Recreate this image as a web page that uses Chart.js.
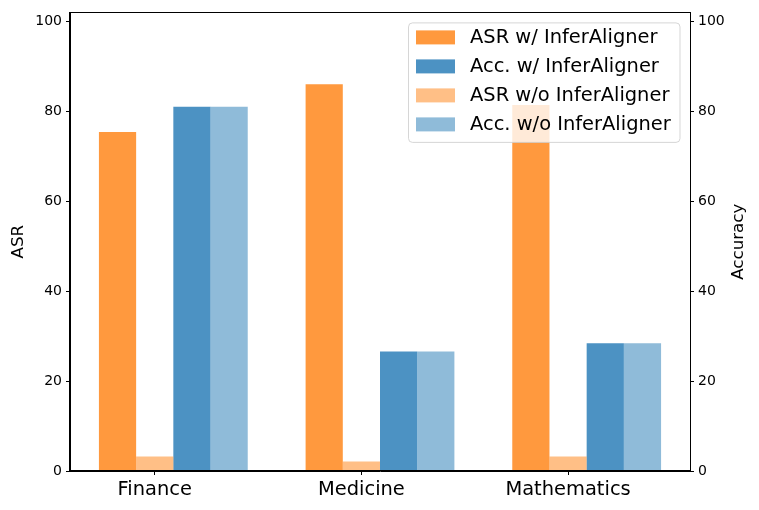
<!DOCTYPE html>
<html><head><meta charset="utf-8">
<script src="https://cdn.jsdelivr.net/npm/chart.js@4"></script>
<style>html,body{margin:0;padding:0;background:#fff;} #wrap{width:759px;height:510px;position:relative;}</style>
</head><body><div id="wrap"><canvas id="c" width="759" height="510"></canvas></div>
<script>
const categories = ['Finance', 'Medicine', 'Mathematics'];
const asrWith = [75.4, 86.0, 81.4];
const asrWithout = [3.2, 2.1, 3.2];
const accWith = [81.0, 26.6, 28.4];
const accWithout = [81.0, 26.6, 28.4];
const yTicks = [0, 20, 40, 60, 80, 100];
const yMax = 102;
const barWidth = 0.18; // in category units
const legendOrder = [0, 2, 1, 3];
const leftTitle = 'ASR';
const rightTitle = 'Accuracy';

const FONT = '"DejaVu Sans", sans-serif';

const datasets = [
  { label: 'ASR w/ InferAligner', data: asrWith, backgroundColor: 'rgba(255,127,14,0.8)', yAxisID: 'y', xAxisID: 'x' },
  { label: 'ASR w/o InferAligner', data: asrWithout, backgroundColor: 'rgba(255,127,14,0.5)', yAxisID: 'y', xAxisID: 'x' },
  { label: 'Acc. w/ InferAligner', data: accWith, backgroundColor: 'rgba(31,119,180,0.8)', yAxisID: 'y1', xAxisID: 'x' },
  { label: 'Acc. w/o InferAligner', data: accWithout, backgroundColor: 'rgba(31,119,180,0.5)', yAxisID: 'y1', xAxisID: 'x' }
];

const framePlugin = {
  id: 'frame',
  afterDatasetsDraw(chart) {
    const { ctx, chartArea: a } = chart;
    ctx.save();
    ctx.strokeStyle = '#000';
    ctx.lineWidth = 1;
    ctx.strokeRect(Math.round(a.left) - 0.5, Math.round(a.top) + 0.5, Math.round(a.right - a.left) + 1, Math.round(a.bottom - a.top) - 1);
    // right axis title, rotated to read bottom-to-top
    ctx.save();
    ctx.translate(chart.width - 20, (a.top + a.bottom) / 2);
    ctx.rotate(-Math.PI / 2);
    ctx.font = '16.7px ' + FONT;
    ctx.fillStyle = '#000';
    ctx.textAlign = 'center';
    ctx.textBaseline = 'middle';
    ctx.fillText(rightTitle, 0, 0);
    ctx.restore();
    ctx.restore();
  }
};

const legendPlugin = {
  id: 'mplLegend',
  afterDraw(chart) {
    const { ctx, chartArea: a } = chart;
    const bx = a.right - 281.5, by = a.top + 10.5, bw = 271.5, bh = 119.5, r = 4;
    ctx.save();
    ctx.beginPath();
    ctx.moveTo(bx + r, by);
    ctx.lineTo(bx + bw - r, by);
    ctx.quadraticCurveTo(bx + bw, by, bx + bw, by + r);
    ctx.lineTo(bx + bw, by + bh - r);
    ctx.quadraticCurveTo(bx + bw, by + bh, bx + bw - r, by + bh);
    ctx.lineTo(bx + r, by + bh);
    ctx.quadraticCurveTo(bx, by + bh, bx, by + bh - r);
    ctx.lineTo(bx, by + r);
    ctx.quadraticCurveTo(bx, by, bx + r, by);
    ctx.closePath();
    ctx.fillStyle = 'rgba(255,255,255,0.8)';
    ctx.fill();
    ctx.strokeStyle = 'rgba(204,204,204,0.8)';
    ctx.lineWidth = 1;
    ctx.stroke();
    ctx.font = '19.44px ' + FONT;
    ctx.textBaseline = 'middle';
    ctx.textAlign = 'left';
    legendOrder.forEach((k, row) => {
      const ds = chart.data.datasets[k];
      const cy = by + 14.5 + row * 29;
      ctx.fillStyle = ds.backgroundColor;
      ctx.fillRect(bx + 7.5, cy - 7, 39, 14);
      ctx.fillStyle = '#000';
      ctx.fillText(ds.label, bx + 61.5, cy + 1);
    });
    ctx.restore();
  }
};

const yAxis = (pos, w, title) => ({
  type: 'linear',
  position: pos,
  min: 0,
  max: yMax,
  afterBuildTicks: s => { s.ticks = yTicks.map(v => ({ value: v })); },
  afterFit: s => { s.width = w; },
  ticks: { font: { family: FONT, size: 14 }, color: '#000', padding: 4 },
  grid: { display: true, drawOnChartArea: false, drawTicks: true, tickLength: 4, color: '#000', tickWidth: 1 },
  border: { display: true, color: '#000', width: 1 },
  title: title ? { display: true, text: title, font: { family: FONT, size: 16.7 }, color: '#000', padding: { top: 9, bottom: 0 } } : { display: false }
});

new Chart(document.getElementById('c'), {
  type: 'bar',
  data: { labels: categories, datasets },
  options: {
    responsive: false,
    animation: false,
    layout: { padding: { top: 10, left: 0, right: 0, bottom: 0 } },
    datasets: { bar: { categoryPercentage: barWidth * 4, barPercentage: 1.0, borderWidth: 0 } },
    plugins: { legend: { display: false }, tooltip: { enabled: false } },
    scales: {
      x: { type: 'category', display: false, offset: true },
      xt: {
        type: 'linear',
        position: 'bottom',
        offset: false,
        min: -0.5 + barWidth / 2,
        max: categories.length - 0.5 + barWidth / 2,
        afterBuildTicks: s => { s.ticks = categories.map((_, i) => ({ value: i })); },
        afterFit: s => { s.height = 39; },
        ticks: { callback: v => categories[v] ?? '', font: { family: FONT, size: 19.44 }, color: '#000', padding: 3, maxRotation: 0, autoSkip: false },
        grid: { display: true, offset: false, drawOnChartArea: false, drawTicks: true, tickLength: 4, color: '#000', tickWidth: 1 },
        border: { display: true, color: '#000', width: 1 }
      },
      y: yAxis('left', 70, leftTitle),
      y1: yAxis('right', 69, null)
    }
  },
  plugins: [framePlugin, legendPlugin]
});
</script></body></html>
